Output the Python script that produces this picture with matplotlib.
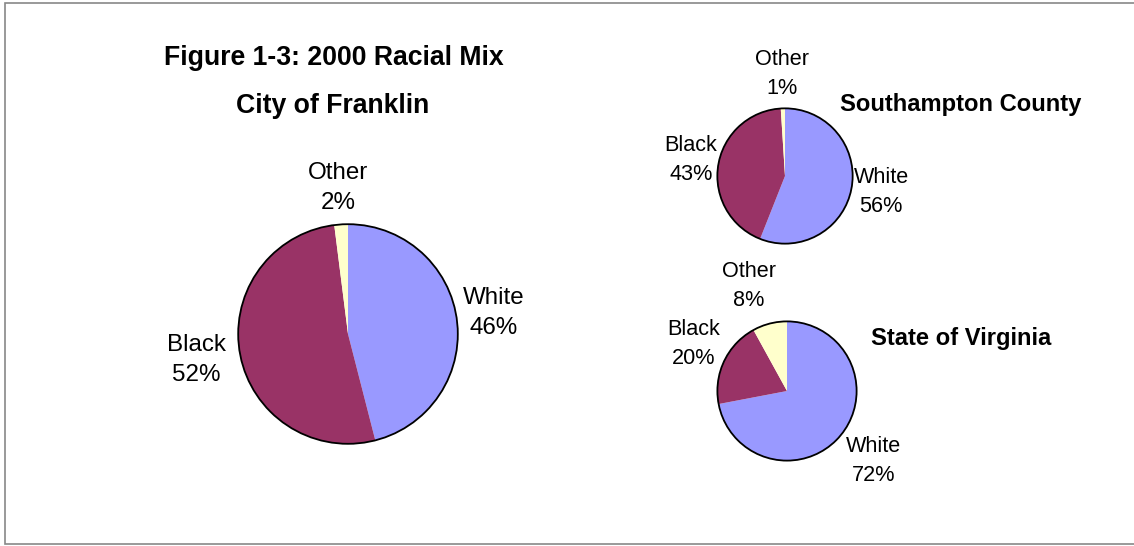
import matplotlib.pyplot as plt
from matplotlib.patches import Circle, Rectangle

plt.rcParams['font.family'] = ['Liberation Sans', 'DejaVu Sans']

# Racial mix, 2000 census shares (%)
groups = ['White', 'Black', 'Other']
franklin = [46, 52, 2]
southampton = [56, 43, 1]
virginia = [72, 20, 8]

colors = ['#9999FF', '#993366', '#FFFFCC']

W, H = 1134, 546
fig = plt.figure(figsize=(W / 100, H / 100), dpi=100)

# thin grey frame around the whole chart area
fig.patches.append(Rectangle((5 / W, 2 / H), (W - 4) / W, (H - 5) / H,
                             transform=fig.transFigure, fill=False,
                             edgecolor='#888888', linewidth=1.2))


def draw_pie(cx, cy, r, values, label_pos, fontsize, spacing):
    # axes box in pixels, centred on (cx, cy) with radius r
    ax = fig.add_axes([(cx - r) / W, 1 - (cy + r) / H, 2 * r / W, 2 * r / H])
    ax.pie(values, colors=colors, startangle=90, counterclock=False,
           radius=1, wedgeprops=dict(linewidth=0))
    ax.add_patch(Circle((0, 0), 1, fill=False, edgecolor='black', linewidth=1.3))
    ax.set_xlim(-1.02, 1.02)
    ax.set_ylim(-1.02, 1.02)
    ax.set_aspect('equal')
    ax.axis('off')
    for name, val, (lx, ly) in zip(groups, values, label_pos):
        ax.text(lx, ly, f'{name}\n{val}%', ha='center', va='center',
                fontsize=fontsize, linespacing=spacing, clip_on=False)


draw_pie(348, 334, 112, franklin,
         [(1.33, 0.19), (-1.38, -0.24), (-0.09, 1.33)], 17.4, 1.48)
draw_pie(785, 176, 69, southampton,
         [(1.42, -0.23), (-1.39, 0.23), (-0.04, 1.51)], 15.6, 1.5)
draw_pie(787, 391, 71, virginia,
         [(1.24, -1.0), (-1.34, 0.68), (-0.55, 1.51)], 15.6, 1.5)

fig.text(334 / W, 1 - 58 / H, 'Figure 1-3: 2000 Racial Mix', ha='center',
         va='center', fontsize=19.2, fontweight='bold')
fig.text(333 / W, 1 - 106 / H, 'City of Franklin', ha='center',
         va='center', fontsize=19.2, fontweight='bold')
fig.text(961 / W, 1 - 104 / H, 'Southampton County', ha='center',
         va='center', fontsize=17.1, fontweight='bold')
fig.text(961 / W, 1 - 338 / H, 'State of Virginia', ha='center',
         va='center', fontsize=17.1, fontweight='bold')

fig.savefig('out.png', dpi=100)
